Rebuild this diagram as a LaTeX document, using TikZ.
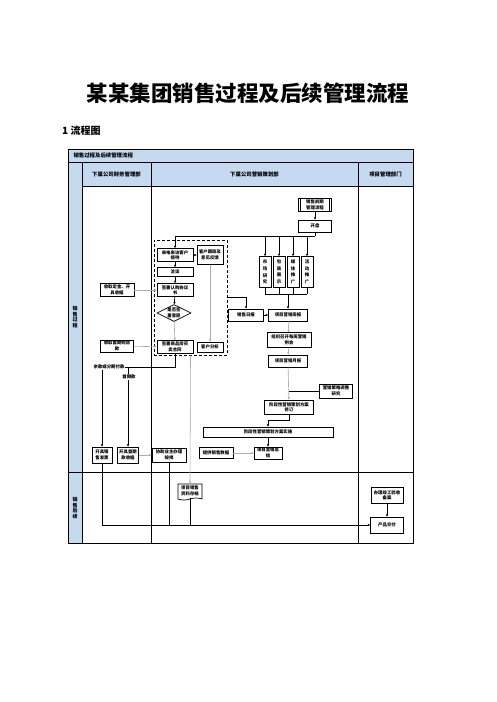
\documentclass[tikz,border=0pt]{standalone}
\usepackage{fontspec}
\setmainfont{Noto Sans CJK SC}
\usetikzlibrary{positioning, arrows.meta, shapes.geometric, shapes.symbols}
\definecolor{lanefill}{RGB}{197,217,241}
\newcommand{\boxfont}{\fontsize{4.4}{5.4}\selectfont\bfseries}

\begin{document}
\begin{tikzpicture}[
  x=1pt, y=-1pt,
  >={Triangle[length=2.2pt, width=2pt]},
  proc/.style={draw, line width=0.7pt, fill=white, font=\boxfont, align=center, inner sep=0.4pt},
  pre/.style={proc, path picture={
      \draw[line width=0.5pt] ([xshift=2.2pt]path picture bounding box.north west) -- ([xshift=2.2pt]path picture bounding box.south west);
      \draw[line width=0.5pt] ([xshift=-2.2pt]path picture bounding box.north east) -- ([xshift=-2.2pt]path picture bounding box.south east);}},
  tall/.style={proc, minimum width=12, minimum height=31, font=\fontsize{4.4}{6.6}\selectfont\bfseries},
  decide/.style={proc, diamond, aspect=2, minimum width=34, minimum height=17, inner sep=0pt},
  doc/.style={proc, tape, tape bend top=none, tape bend height=2pt},
  lbl/.style={font=\boxfont, inner sep=0.4pt},
  flow/.style={->, line width=0.7pt},
  soft/.style={->, line width=0.6pt, draw=gray!65},
  lanehead/.style={font=\fontsize{5.4}{6}\selectfont\bfseries},
  grid/.style={line width=0.8pt}
]
  \fill[white] (0,0) rectangle (496,702);
  \useasboundingbox (0,0) rectangle (496,702);

  % Title and section heading
  \node[font=\fontsize{21.5}{24}\selectfont\bfseries] (title) at (248,93) {某某集团销售过程及后续管理流程};
  \node[font=\fontsize{10}{12}\selectfont\bfseries, anchor=west, inner sep=0pt] (heading) at (62,131) {1 流程图};

  % Table frame with shaded header row, lane heads and left column
  \fill[lanefill] (68,149) rectangle (413,186);
  \fill[lanefill] (68,149) rectangle (82,543);
  \draw[grid] (68,149) rectangle (413,543);
  \draw[grid] (68,162) -- (413,162);
  \draw[grid] (82,186) -- (413,186);
  \draw[grid] (68,472) -- (413,472);
  \draw[grid] (82,162) -- (82,543);
  \draw[grid] (151,162) -- (151,543);
  \draw[grid] (358,162) -- (358,543);

  \node[lanehead, anchor=west] (tablehead) at (70,155.5) {销售过程及后续管理流程};
  \node[lanehead] (finance) at (116.5,174) {下属公司财务管理部};
  \node[lanehead] (marketing) at (254.5,174) {下属公司营销策划部};
  \node[lanehead] (project) at (385.5,174) {项目管理部门};
  \node[lanehead, align=center, font=\fontsize{5}{5.6}\selectfont\bfseries] (phasesale) at (75,317) {销\\售\\过\\程};
  \node[lanehead, align=center, font=\fontsize{5}{5.6}\selectfont\bfseries] (phaseafter) at (75,508) {销\\售\\后\\续};

  % Reception group (dashed frame)
  \node[draw, densely dashed, line width=0.6pt, minimum width=73, minimum height=115, inner sep=0pt] (group) at (190.5,297.5) {};

  % Launch and promotion
  \node[pre, minimum width=33, minimum height=13] (presale) at (315,205) {销售前期\\管理流程};
  \node[proc, minimum width=33, minimum height=12] (launch) at (315,226) {开盘};
  \coordinate (bus) at (315,236);
  \node[tall] (research) at (265,272) {市\\场\\研\\究};
  \node[tall] (display) at (279,272) {包\\装\\展\\示};
  \node[tall] (media) at (293,272) {媒\\体\\推\\广};
  \node[tall] (event) at (307,272) {活\\动\\推\\广};
  \coordinate (merge) at (288,294);

  % Customer handling
  \node[proc, minimum width=36, minimum height=13] (visit) at (175,255) {来电来访客户\\接待};
  \node[proc, minimum width=26, minimum height=19] (follow) at (210,255) {客户跟踪及\\意见反馈};
  \node[proc, minimum width=36, minimum height=9] (talk) at (175,272) {洽谈};
  \node[proc, minimum width=36, minimum height=13] (order) at (175,290) {签署认购协议\\书};
  \node[decide] (willing) at (174,313) {是否签\\署意愿};
  \node[proc, minimum width=36, minimum height=13] (contract) at (175,347) {签署商品房买\\卖合同};
  \node[proc, minimum width=26, minimum height=10] (analysis) at (210,347) {客户分析};

  % Reports and plan revision
  \node[proc, minimum width=35, minimum height=12] (daily) at (246,315) {销售日报};
  \node[proc, minimum width=39, minimum height=12] (weekly) at (288,315) {项目营销周报};
  \node[proc, minimum width=44, minimum height=15] (meeting) at (289,340) {组织召开每周营销\\例会};
  \node[proc, minimum width=39, minimum height=12] (monthly) at (288,361) {项目营销月报};
  \node[proc, minimum width=33, minimum height=14] (strategy) at (336,391) {营销策略调整\\研究};
  \node[proc, minimum width=49, minimum height=14] (revise) at (289,407) {阶段性营销策划方案\\修订};
  \node[proc, minimum width=130, minimum height=10] (execute) at (268,432) {阶段性营销策划方案实施};
  \node[proc, minimum width=34, minimum height=11] (salesdata) at (216,453) {提供销售数据};
  \node[proc, minimum width=28, minimum height=12] (summary) at (268,453) {项目营销总\\结};
  \node[proc, minimum width=34, minimum height=14] (mortgage) at (169,455) {协助业主办理\\按揭};
  \node[doc, minimum width=24, minimum height=16] (archive) at (190,491) {项目销售\\资料存档};

  % Finance lane
  \node[proc, minimum width=34, minimum height=13] (deposit) at (117,290) {收取定金、开\\具收据};
  \node[proc, minimum width=33, minimum height=12] (downpay) at (117,346) {收取首期购房\\款};
  \node[proc, minimum width=20, minimum height=16] (invoice) at (102,455) {开具销\\售发票};
  \node[proc, minimum width=21, minimum height=16] (receipt) at (128,455) {开具首期\\款收据};
  \node[lbl] (balance) at (109,367) {余款或分期付款};

  % Project department lane
  \node[proc, minimum width=32, minimum height=16] (acceptance) at (387,495) {办理竣工验收\\备案};
  \node[proc, minimum width=33, minimum height=16] (delivery) at (387,525) {产品交付};

  % Connectors
  \draw[flow] (presale) -- (launch);
  \draw[line width=0.7pt] (launch.south) -- (bus);
  \draw[flow] (bus) -| (visit.north);
  \foreach \n in {research, display, media, event} {
    \draw[flow] (\n.north |- bus) -- (\n.north);
    \draw[line width=0.7pt] (\n.south) -- (\n.south |- merge);
  }
  \draw[line width=0.7pt] (research.south |- merge) -- (event.south |- merge);
  \draw[flow] (merge) -- (weekly.north);

  \draw[flow] (visit) -- (follow);
  \draw[flow] (visit) -- (talk);
  \draw[flow] (talk) -- (order);
  \draw[flow] (order) -- (willing);
  \draw[soft] (willing) -- (contract);
  \draw[soft] (follow) -- (analysis);
  \draw[soft] (deposit) -- (order);
  \draw[soft] (downpay) -- (contract);

  \draw[flow] (group.east) -| (daily.north);
  \draw[flow] (daily) -- (weekly);
  \draw[soft] (weekly) -- (meeting);
  \draw[soft] (meeting) -- (monthly);
  \draw[soft] (monthly) -- (revise);
  \draw[line width=0.7pt] (strategy.west) -- (strategy.west -| revise.north);
  \draw[flow] (revise.south) -- ++(0,6) -| (execute.north);
  \draw[flow] (execute) -- (summary);
  \draw[soft] (salesdata) -- (summary);
  \draw[soft] (group.south) -- (archive.north);

  \draw[line width=0.7pt] (contract.south) |- (balance.east);
  \draw[flow] (receipt.north |- balance.east) -- (receipt.north);
  \node[lbl, fill=white] (firstpay) at (129,377) {首期款};
  \draw[flow] (balance.south -| invoice.north) -- (invoice.north);
  \draw[soft] (receipt) -- (mortgage);

  \draw[flow] (invoice.south) |- (delivery.west);
  \draw[line width=0.7pt] (mortgage.south) -- (mortgage.south |- delivery.west);
  \draw[line width=0.7pt] (archive.south) -- (archive.south |- delivery.west);
  \draw[flow] (acceptance) -- (delivery);
\end{tikzpicture}
\end{document}
